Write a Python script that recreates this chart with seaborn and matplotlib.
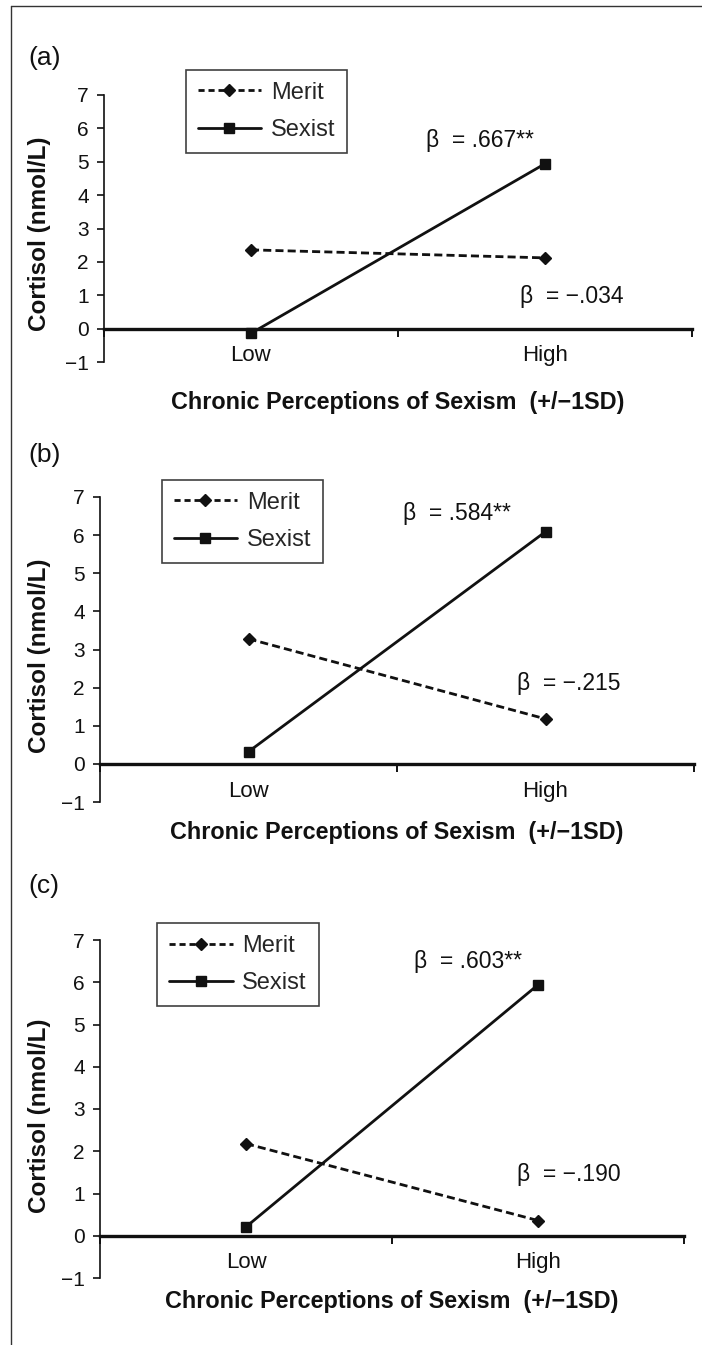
import numpy as np
import pandas as pd
import matplotlib
matplotlib.use("Agg")
import matplotlib.pyplot as plt
from matplotlib.lines import Line2D
from matplotlib.ticker import FixedLocator
import seaborn as sns

# ── DATA ─────────────────────────────────────────────────────────────────────
levels = ["Low", "High"]
conditions = ["Merit", "Sexist"]
panels = ["(a)", "(b)", "(c)"]

merit_a = [2.36, 2.12]
sexist_a = [-0.14, 4.94]
merit_b = [3.28, 1.18]
sexist_b = [0.32, 6.09]
merit_c = [2.18, 0.36]
sexist_c = [0.21, 5.94]

beta_sexist = ["β  = .667**", "β  = .584**", "β  = .603**"]
beta_merit = ["β  = −.034", "β  = −.215", "β  = −.190"]

yticks = [-1, 0, 1, 2, 3, 4, 5, 6, 7]

# ── STYLE ────────────────────────────────────────────────────────────────────
sns.set_theme(style="ticks")
plt.rcParams["font.family"] = ["Liberation Sans", "DejaVu Sans"]
plt.rcParams["axes.unicode_minus"] = True

INK = "#111111"
LW = 2.0
W, H = 702, 1345
fig = plt.figure(figsize=(W / 100, H / 100), dpi=100)


def px_rect(left, right, top, bottom):
    return [left / W, 1 - bottom / H, (right - left) / W, (bottom - top) / H]


# axes boxes in pixels: left, right, top(y=7), bottom(y=-1)
boxes = [(104, 692, 95, 362), (100, 694, 497, 802), (100, 684, 940, 1278)]
panel_label_y = [58, 455, 886]
xlabel_top = [391, 821, 1290]
legend_anchor = [(0.139, 1.094), (0.104, 1.056), (0.098, 1.050)]
beta_s_pos = [(0.595, 5.65), (0.52, 6.58), (0.575, 6.48)]
beta_m_pos = [(0.915, 0.95), (0.904, 2.12), (0.928, 1.44)]

series = [(merit_a, sexist_a), (merit_b, sexist_b), (merit_c, sexist_c)]

for i, (merit, sexist) in enumerate(series):
    df = pd.DataFrame({
        "level": levels * 2,
        "condition": ["Merit"] * 2 + ["Sexist"] * 2,
        "cortisol": list(merit) + list(sexist),
    })
    ax = fig.add_axes(px_rect(*boxes[i]))
    sns.pointplot(
        data=df, x="level", y="cortisol", hue="condition",
        order=levels, hue_order=conditions,
        palette={"Merit": INK, "Sexist": INK},
        markers=["D", "s"], linestyles=["--", "-"],
        errorbar=None, legend=False, ax=ax,
    )
    for ln in ax.get_lines():
        ln.set_linewidth(LW)
        ln.set_markeredgewidth(1.0)
        if ln.get_marker() == "D":
            ln.set_dashes((2.9, 1.5))
            ln.set_markersize(6)
        else:
            ln.set_markersize(7.5)

    ax.set_ylim(-1, 7)
    ax.set_xlim(-0.5, 1.5)
    ax.set_yticks(yticks)
    ax.tick_params(axis="y", labelsize=15, length=5, width=1.2, pad=6,
                   direction="out", colors=INK)
    ax.tick_params(axis="x", which="major", labelsize=16, length=0, pad=12,
                   colors=INK)
    ax.xaxis.set_minor_locator(FixedLocator([-0.5, 0.5, 1.5]))
    ax.tick_params(axis="x", which="minor", length=6, width=1.4,
                   direction="out", color=INK)

    sns.despine(ax=ax)
    ax.spines["bottom"].set_position(("data", 0))
    ax.spines["bottom"].set_linewidth(2.4)
    ax.spines["bottom"].set_color(INK)
    ax.spines["left"].set_linewidth(1.2)
    ax.spines["left"].set_color(INK)

    ax.set_ylabel("Cortisol (nmol/L)", fontsize=17.5, fontweight="bold",
                  color=INK)
    ax.set_xlabel("Chronic Perceptions of Sexism  (+/−1SD)", fontsize=16.8,
                  fontweight="bold", color=INK)
    left, right, top, bottom = boxes[i]
    ax.yaxis.set_label_coords((51 - left) / (right - left), 0.48)
    ax.xaxis.set_label_coords(0.5, (bottom - xlabel_top[i]) / (bottom - top))

    ax.text(*beta_s_pos[i], beta_sexist[i], fontsize=16.5, va="center",
            ha="left", color=INK)
    ax.text(*beta_m_pos[i], beta_merit[i], fontsize=16.5, va="center",
            ha="left", color=INK)

    handles = [
        Line2D([], [], color=INK, lw=LW, dashes=(2.2, 1.4),
               marker="D", markersize=6),
        Line2D([], [], color=INK, lw=LW, marker="s", markersize=7.5),
    ]
    leg = ax.legend(handles, conditions, loc="upper left",
                    bbox_to_anchor=legend_anchor[i], frameon=True,
                    fancybox=False, edgecolor=INK, fontsize=17,
                    handlelength=2.7, handletextpad=0.4, borderpad=0.5,
                    labelspacing=0.65, borderaxespad=0, numpoints=1)
    leg.get_frame().set_linewidth(1.2)

    fig.text(28 / W, 1 - panel_label_y[i] / H, panels[i], fontsize=19,
             va="center", ha="left", color=INK)

# page border lines (top and left)
fig.add_artist(Line2D([11 / W, 1], [1 - 6 / H, 1 - 6 / H], color="#333333",
                      lw=1.0, transform=fig.transFigure))
fig.add_artist(Line2D([11 / W, 11 / W], [1 - 6 / H, 0], color="#333333",
                      lw=1.0, transform=fig.transFigure))

fig.savefig("out.png", dpi=100, facecolor="white")
